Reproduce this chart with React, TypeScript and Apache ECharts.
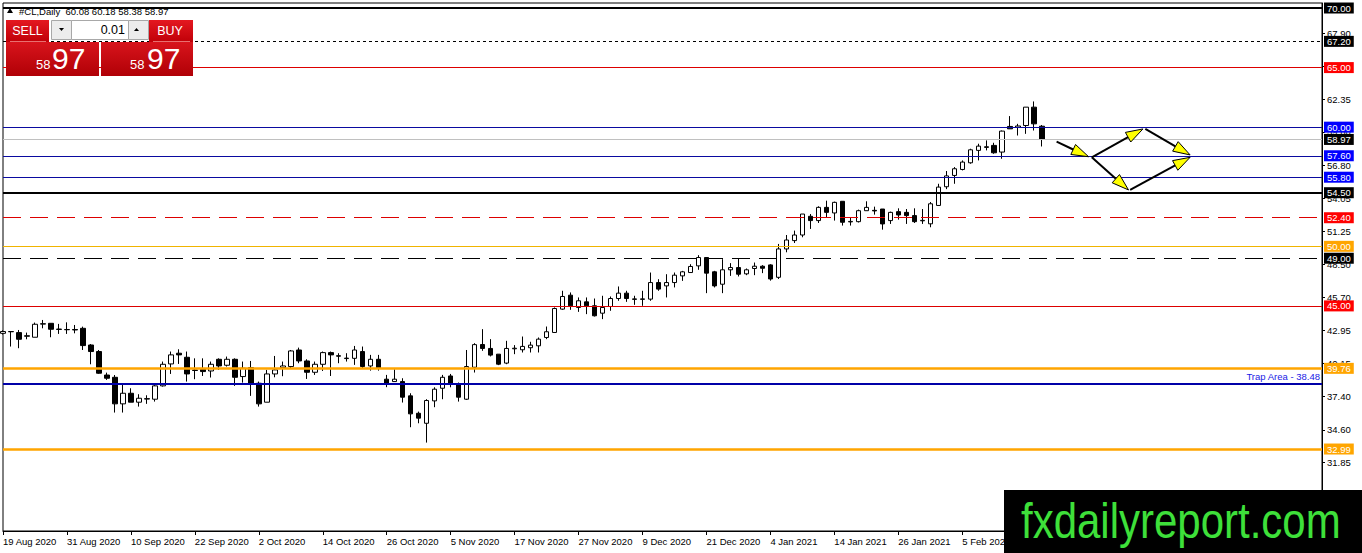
import React, { useEffect, useRef } from "react";
import * as echarts from "echarts";

// ---- candles: [open, high, low, close] per trading day ----
const aug2020 = [
  [42.70, 42.95, 42.60, 42.85], [42.85, 42.88, 41.59, 42.83], [42.76, 42.98, 41.45, 42.20],
  [42.45, 42.76, 42.20, 42.50], [42.37, 43.60, 42.37, 43.46], [43.47, 43.82, 43.12, 43.51],
  [43.54, 43.54, 42.37, 43.04], [43.02, 43.49, 42.65, 43.06], [43.02, 43.62, 42.65, 43.00],
];
const sep2020 = [
  [43.02, 43.40, 42.70, 42.98], [43.12, 43.26, 41.30, 41.67], [41.72, 41.80, 40.10, 41.17],
  [41.17, 41.30, 39.30, 39.35], [39.20, 39.40, 38.79, 38.93], [39.01, 39.20, 36.05, 36.78],
  [36.78, 38.37, 36.05, 37.67], [37.67, 38.09, 36.92, 36.92], [36.92, 37.59, 36.55, 37.25],
  [37.18, 37.50, 36.78, 37.22], [37.17, 38.37, 36.97, 38.29], [38.29, 40.33, 38.23, 40.10],
  [40.13, 41.17, 39.29, 40.89], [41.03, 41.36, 40.13, 40.89], [40.69, 41.17, 38.65, 39.29],
  [39.58, 40.60, 38.85, 39.62], [39.68, 40.60, 39.12, 39.49], [39.54, 40.33, 38.99, 40.10],
  [40.52, 40.60, 39.63, 39.96], [40.02, 40.75, 39.91, 40.52], [40.52, 40.60, 38.29, 39.01],
  [39.07, 40.33, 38.56, 39.77],
];
const oct2020 = [
  [39.82, 40.38, 37.45, 38.51], [38.51, 38.65, 36.55, 36.78], [36.92, 39.63, 36.92, 39.29],
  [39.29, 40.80, 39.01, 39.63], [39.82, 40.33, 39.10, 39.96], [39.91, 41.30, 39.77, 41.22],
  [41.30, 41.50, 40.19, 40.38], [40.38, 40.52, 38.87, 39.43], [39.43, 40.33, 39.21, 40.10],
  [40.10, 41.17, 39.54, 41.08], [41.08, 41.17, 39.12, 40.89], [40.82, 41.03, 40.19, 40.78],
  [40.58, 41.03, 40.33, 40.62], [40.60, 41.64, 40.05, 41.30], [41.17, 41.59, 39.77, 39.91],
  [39.96, 40.89, 39.57, 40.52], [40.52, 40.89, 39.57, 39.77], [38.85, 39.21, 38.18, 38.51],
  [38.65, 39.68, 38.65, 38.85], [38.65, 38.93, 36.89, 37.34], [37.45, 37.67, 34.82, 35.94],
  [35.99, 36.13, 35.15, 35.58],
];
const nov2020 = [
  [35.15, 37.17, 33.53, 37.06], [37.03, 38.17, 36.50, 38.01], [38.09, 39.21, 37.17, 39.01],
  [39.12, 39.29, 38.17, 38.51], [38.45, 38.57, 36.97, 37.34], [37.17, 41.30, 37.11, 39.91],
  [39.85, 41.87, 39.41, 41.75], [41.76, 43.05, 41.23, 41.43], [41.43, 42.21, 40.76, 40.87],
  [40.95, 40.95, 40.03, 40.11], [40.20, 42.07, 40.11, 41.43], [41.40, 41.71, 40.95, 41.45],
  [41.32, 42.43, 41.09, 41.60], [41.49, 41.99, 41.09, 41.71], [41.65, 42.35, 41.09, 42.21],
  [42.35, 43.27, 42.21, 42.83], [42.77, 44.87, 42.77, 44.78], [44.73, 46.27, 44.67, 45.79],
  [45.90, 46.13, 44.67, 45.01], [44.87, 45.71, 44.50, 45.43], [45.34, 45.71, 44.31, 45.01],
];
const dec2020 = [
  [45.01, 45.62, 44.11, 44.17], [44.39, 45.85, 43.89, 44.87], [44.95, 45.79, 44.59, 45.62],
  [45.62, 46.63, 45.43, 46.07], [46.07, 46.27, 45.34, 45.62], [45.59, 45.85, 45.09, 45.55],
  [45.55, 46.27, 45.01, 45.59], [45.57, 47.80, 45.43, 46.96], [46.96, 47.24, 46.27, 46.41],
  [46.68, 47.66, 45.71, 46.96], [46.96, 47.80, 46.55, 47.58], [47.52, 47.94, 47.10, 47.86],
  [47.80, 48.50, 47.80, 48.31], [48.36, 49.26, 48.03, 49.06], [49.06, 49.06, 46.07, 47.75],
  [47.86, 47.94, 46.55, 46.68], [46.82, 48.92, 46.07, 48.03], [48.03, 48.59, 47.52, 48.22],
  [48.22, 48.98, 47.47, 47.66], [47.69, 48.14, 47.58, 48.03], [48.14, 48.64, 47.58, 48.33],
  [48.33, 48.42, 47.75, 48.16],
];
const jan2021 = [
  [48.44, 48.50, 47.12, 47.26], [47.40, 50.20, 47.26, 49.78], [49.78, 50.95, 49.50, 50.53],
  [50.48, 51.32, 50.28, 50.95], [50.95, 52.71, 50.76, 52.71], [52.52, 52.71, 51.46, 52.16],
  [52.16, 53.36, 51.96, 53.27], [53.27, 53.83, 52.44, 52.85], [52.80, 53.75, 52.16, 53.69],
  [53.78, 53.78, 51.74, 52.02], [52.05, 52.44, 51.74, 52.09], [52.07, 53.08, 52.00, 52.99],
  [52.99, 53.78, 52.99, 53.27], [53.02, 53.33, 52.66, 52.97], [53.13, 53.13, 51.40, 51.88],
  [52.16, 52.91, 51.88, 52.85], [52.91, 53.19, 52.24, 52.63], [52.85, 53.13, 51.88, 52.58],
  [52.58, 53.19, 51.96, 52.07], [52.14, 53.13, 51.88, 52.18],
];
const feb2021 = [
  [51.89, 53.72, 51.60, 53.57], [53.43, 55.25, 53.41, 54.97], [55.00, 56.32, 54.80, 55.91],
  [55.95, 56.65, 55.25, 56.51], [56.45, 57.21, 56.37, 57.07], [57.01, 58.19, 56.93, 58.10],
  [58.05, 58.61, 57.21, 58.41], [58.30, 58.89, 58.05, 58.36], [58.47, 58.69, 57.77, 57.85],
  [57.91, 59.72, 57.35, 59.67], [60.06, 60.93, 59.86, 59.86], [59.99, 60.28, 59.30, 60.10],
  [60.14, 61.68, 59.44, 61.68], [61.68, 62.16, 59.72, 60.28], [60.08, 60.18, 58.38, 58.97],
];

// ---- horizontal levels ----
const levelValues = [70.0, 67.2, 65.0, 60.0, 58.97, 57.6, 55.8, 54.5, 52.4, 50.0, 49.0, 45.0, 39.76, 38.48, 32.99];
const trapLevel = 38.48;
const trapText = "Trap Area - 38.48";

// ---- price-axis tick labels ----
const priceTicks = [29.05, 31.85, 34.6, 37.4, 40.15, 42.95, 45.7, 48.5, 51.25, 54.05, 56.8, 59.6, 62.35, 65.15, 67.9];

// ---- projected path arrows: [barIndexFrom, priceFrom, barIndexTo, priceTo] ----
const arrows = [
  [131.8, 58.78, 135.8, 57.52],
  [136.2, 57.47, 142.6, 59.85],
  [136.2, 57.47, 140.8, 54.73],
  [142.9, 59.85, 148.5, 57.67],
  [141.0, 54.73, 148.5, 57.47],
];

const header = "#CL,Daily  60.08 60.18 58.38 58.97";
const bidBig = "97", bidSmall = "58", askBig = "97", askSmall = "58";
const lotSize = "0.01";

const holidays = ["2020-12-25", "2021-01-01"];
const MONTHS = ["Jan", "Feb", "Mar", "Apr", "May", "Jun", "Jul", "Aug", "Sep", "Oct", "Nov", "Dec"];
const TOTAL_SLOTS = 166;

function buildDates(startISO: string, count: number): string[] {
  const out: string[] = [];
  const d = new Date(startISO + "T00:00:00Z");
  while (out.length < count) {
    const wd = d.getUTCDay();
    const iso = d.toISOString().slice(0, 10);
    if (wd !== 0 && wd !== 6 && !holidays.includes(iso)) {
      out.push(`${d.getUTCDate()} ${MONTHS[d.getUTCMonth()]} ${d.getUTCFullYear()}`);
    }
    d.setUTCDate(d.getUTCDate() + 1);
  }
  return out;
}

const FONT = "Tahoma, 'Liberation Sans', Arial, sans-serif";

type LvlStyle = { color: string; width: number; type: any; box: string | null };
const NAVY = "#0a0aa0";
const RED = "#dd0000";
const ORANGE = "#ffa500";
const levelStyles: Record<string, LvlStyle> = {
  "70.00": { color: "#000000", width: 2, type: "solid", box: "#000000" },
  "67.20": { color: "#000000", width: 1, type: [3, 3], box: "#000000" },
  "65.00": { color: RED, width: 1, type: "solid", box: "#ff0000" },
  "60.00": { color: NAVY, width: 1, type: "solid", box: "#0000ff" },
  "58.97": { color: "#c0c0c0", width: 1, type: "solid", box: "#000000" },
  "57.60": { color: NAVY, width: 1, type: "solid", box: "#0000ff" },
  "55.80": { color: NAVY, width: 1, type: "solid", box: "#0000ff" },
  "54.50": { color: "#000000", width: 2, type: "solid", box: "#000000" },
  "52.40": { color: RED, width: 1, type: [18, 9], box: "#ff0000" },
  "50.00": { color: "#f0b400", width: 1, type: "solid", box: ORANGE },
  "49.00": { color: "#000000", width: 1, type: [18, 9], box: "#000000" },
  "45.00": { color: RED, width: 1, type: "solid", box: "#ff0000" },
  "39.76": { color: ORANGE, width: 2.5, type: "solid", box: ORANGE },
  "38.48": { color: "#0000a8", width: 2, type: "solid", box: null },
  "32.99": { color: ORANGE, width: 2.5, type: "solid", box: ORANGE },
};

export default function App() {
  const ref = useRef<HTMLDivElement>(null);
  useEffect(() => {
    if (!ref.current) return;
    const chart = echarts.init(ref.current, null, { renderer: "svg" });
    const bars = [...aug2020, ...sep2020, ...oct2020, ...nov2020, ...dec2020, ...jan2021, ...feb2021];
    const lastIdx = bars.length - 1;
    const categories = buildDates("2020-08-19", TOTAL_SLOTS);
    const candleData = bars.map(([o, h, l, c]) => [o, c, l, h]);
    const yMin = 26.11, yMax = 70.42;

    const levelSeries = levelValues.map((v) => {
      const s = levelStyles[v.toFixed(2)];
      const label: any = s.box
        ? {
            show: true, position: "end", distance: 2,
            formatter: () => v.toFixed(2),
            backgroundColor: s.box, color: "#ffffff",
            fontFamily: FONT, fontSize: 9.5, lineHeight: 9, padding: [1, 3, 1, 3],
          }
        : v === trapLevel
        ? {
            show: true, position: "insideEndTop", distance: 2,
            formatter: () => trapText, color: "#1a1ae6",
            fontFamily: FONT, fontSize: 9.5,
          }
        : { show: false };
      return {
        type: "line",
        name: "level " + v.toFixed(2),
        xAxisIndex: 0, yAxisIndex: 0,
        data: [],
        silent: true,
        z: 3,
        markLine: {
          silent: true,
          animation: false,
          symbol: ["none", "none"],
          lineStyle: { color: s.color, width: s.width, type: s.type, opacity: 1 },
          label,
          emphasis: { disabled: true },
          data: [{ yAxis: v }],
        },
      };
    });

    const redGrad = (top: string, bottom: string) =>
      new echarts.graphic.LinearGradient(0, 0, 0, 1, [
        { offset: 0, color: top },
        { offset: 1, color: bottom },
      ]);

    const txt = (x: number, y: number, text: string, size: number, color: string, align = "left") => ({
      type: "text", x, y, z: 60,
      style: { text, fill: color, font: `${size}px 'Liberation Sans', Arial, sans-serif`, textAlign: align, textVerticalAlign: "middle" },
    });

    chart.setOption({
      animation: false,
      backgroundColor: "#ffffff",
      grid: {
        left: 3, right: 40, top: 3, bottom: 22, containLabel: false, outerBoundsMode: "none",
        show: true, borderColor: "#000000", borderWidth: 1, backgroundColor: "transparent",
      },
      xAxis: [
        {
          type: "category", data: categories, boundaryGap: false,
          axisLine: { show: true, onZero: false, lineStyle: { color: "#000", width: 1 } },
          axisTick: { show: true, interval: 7, length: 4, lineStyle: { color: "#000" } },
          axisLabel: {
            show: true, interval: 7, align: "left", margin: 5, color: "#000",
            fontFamily: FONT, fontSize: 9.5,
            formatter: (val: string, idx: number) => (idx <= lastIdx ? val : ""),
          },
          splitLine: { show: false },
        },
        { type: "value", min: 0, max: TOTAL_SLOTS - 1, show: false, axisLine: { onZero: false } },
      ],
      yAxis: [
        {
          type: "value", position: "right", min: yMin, max: yMax, scale: true,
          axisLine: { show: true, onZero: false, lineStyle: { color: "#000", width: 1 } },
          axisTick: { show: true, length: 3, customValues: priceTicks, lineStyle: { color: "#000" } },
          axisLabel: {
            show: true, margin: 5, color: "#000", fontFamily: FONT, fontSize: 9.5,
            customValues: priceTicks, formatter: (v: number) => v.toFixed(2),
          },
          splitLine: { show: false },
        },
      ],
      series: [
        {
          type: "candlestick",
          name: "#CL",
          xAxisIndex: 0, yAxisIndex: 0,
          data: candleData,
          barWidth: 5,
          z: 2,
          itemStyle: { color: "#ffffff", color0: "#000000", borderColor: "#000000", borderColor0: "#000000", borderWidth: 1 },
        },
        ...levelSeries,
        {
          type: "custom",
          name: "arrows",
          xAxisIndex: 1, yAxisIndex: 0,
          clip: false, silent: true, z: 5,
          encode: { x: [0, 2], y: [1, 3] },
          data: arrows,
          renderItem: (_p: any, api: any) => {
            const a = api.coord([api.value(0), api.value(1)]);
            const b = api.coord([api.value(2), api.value(3)]);
            const dx = b[0] - a[0], dy = b[1] - a[1];
            const len = Math.hypot(dx, dy) || 1;
            const ux = dx / len, uy = dy / len;
            const hl = 17, hw = 5.5;
            const base = [b[0] - ux * hl, b[1] - uy * hl];
            const l = [base[0] - uy * hw, base[1] + ux * hw];
            const r = [base[0] + uy * hw, base[1] - ux * hw];
            return {
              type: "group",
              children: [
                { type: "line", shape: { x1: a[0], y1: a[1], x2: base[0], y2: base[1] }, style: { stroke: "#000", lineWidth: 2 } },
                { type: "polygon", shape: { points: [b, l, r] }, style: { fill: "#ffff00", stroke: "#000", lineWidth: 1 } },
              ],
            };
          },
        },
      ],
      graphic: [
        // header
        { type: "polygon", z: 60, shape: { points: [[7, 13], [13, 13], [10, 8]] }, style: { fill: "#000" } },
        txt(19, 11.5, header, 9.5, "#000"),
        // SELL button
        { type: "rect", z: 55, shape: { x: 6, y: 20, width: 43, height: 22 }, style: { fill: redGrad("#e41820", "#c00008") } },
        txt(27.5, 30.5, "SELL", 12.5, "#fff", "center"),
        // lot selector
        { type: "rect", z: 55, shape: { x: 51.5, y: 20.5, width: 20, height: 19 }, style: { fill: "#ececec", stroke: "#a8a8a8", lineWidth: 1 } },
        { type: "polygon", z: 60, shape: { points: [[59, 28], [64, 28], [61.5, 31]] }, style: { fill: "#000" } },
        { type: "rect", z: 55, shape: { x: 71.5, y: 20.5, width: 57, height: 19 }, style: { fill: "#fff", stroke: "#a8a8a8", lineWidth: 1 } },
        txt(125, 30, lotSize, 12.5, "#000", "right"),
        { type: "rect", z: 55, shape: { x: 128.5, y: 20.5, width: 20, height: 19 }, style: { fill: "#ececec", stroke: "#a8a8a8", lineWidth: 1 } },
        { type: "polygon", z: 60, shape: { points: [[134, 31], [139, 31], [136.5, 28]] }, style: { fill: "#000" } },
        // BUY button
        { type: "rect", z: 55, shape: { x: 149, y: 20, width: 44, height: 22 }, style: { fill: redGrad("#e41820", "#c00008") } },
        txt(170, 30.5, "BUY", 12.5, "#fff", "center"),
        { type: "line", z: 58, shape: { x1: 10, y1: 41.5, x2: 46, y2: 41.5 }, style: { stroke: "#e87070", lineWidth: 1 } },
        { type: "line", z: 58, shape: { x1: 153, y1: 41.5, x2: 190, y2: 41.5 }, style: { stroke: "#e87070", lineWidth: 1 } },
        // price boxes
        { type: "rect", z: 55, shape: { x: 6, y: 42, width: 93, height: 34 }, style: { fill: redGrad("#d8141c", "#b00006") } },
        { type: "rect", z: 55, shape: { x: 101, y: 42, width: 92, height: 34 }, style: { fill: redGrad("#d8141c", "#b00006") } },
        txt(36, 64.5, bidSmall, 13, "#fff"),
        txt(52, 58.8, bidBig, 30, "#fff"),
        txt(130, 64.5, askSmall, 13, "#fff"),
        txt(147, 58.8, askBig, 30, "#fff"),
        // watermark logo
        { type: "rect", z: 70, shape: { x: 1004, y: 490, width: 358, height: 63 }, style: { fill: "#000" } },
        {
          type: "text", z: 71, x: 1021, y: 521, scaleY: 1.2,
          style: { text: "fxdailyreport.com", fill: "#3ee03a", font: "42px 'Liberation Sans', Arial, sans-serif", textAlign: "left", textVerticalAlign: "middle" },
        },
      ],
    });
    return () => chart.dispose();
  }, []);
  return <div ref={ref} style={{ position: "absolute", left: 0, top: 0, width: 1362, height: 553 }} />;
}
